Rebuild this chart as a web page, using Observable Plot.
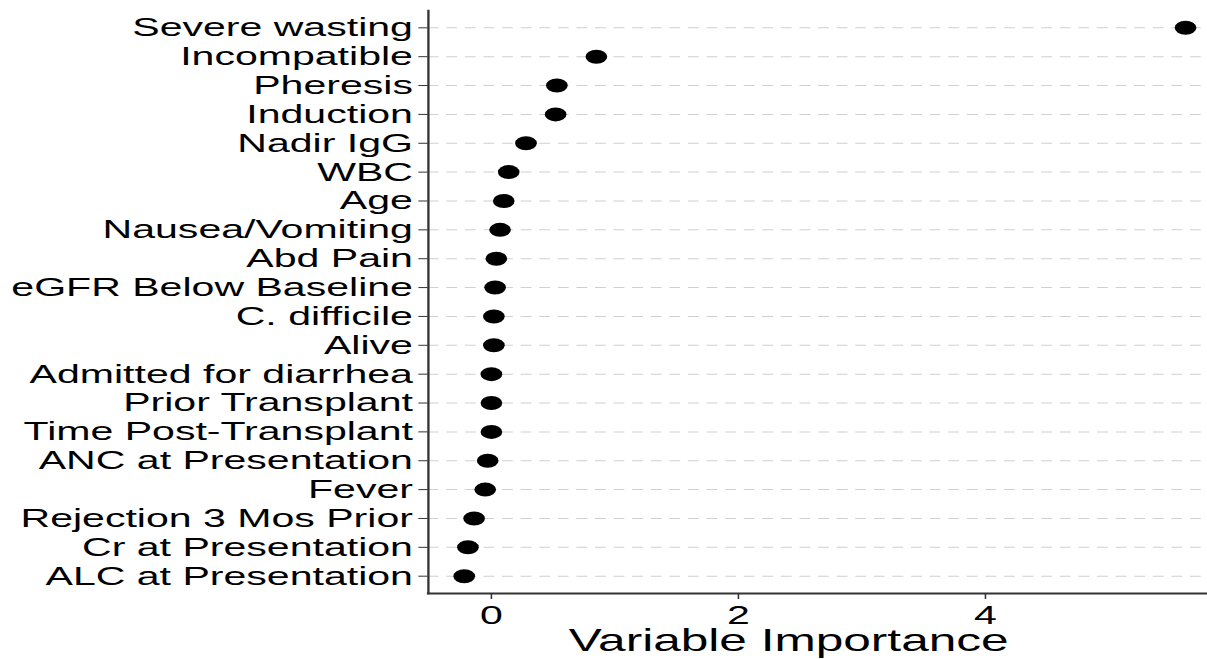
<!DOCTYPE html>
<html>
<head>
<meta charset="utf-8">
<script src="https://cdn.jsdelivr.net/npm/d3@7"></script>
<script src="https://cdn.jsdelivr.net/npm/@observablehq/plot@0.6"></script>
<style>
  html, body { margin: 0; padding: 0; background: white; overflow: hidden; }
</style>
</head>
<body>
<div id="chart"></div>
<script>
const categories = [
  "Severe wasting", "Incompatible", "Pheresis", "Induction", "Nadir IgG",
  "WBC", "Age", "Nausea/Vomiting", "Abd Pain", "eGFR Below Baseline",
  "C. difficile", "Alive", "Admitted for diarrhea", "Prior Transplant",
  "Time Post-Transplant", "ANC at Presentation", "Fever",
  "Rejection 3 Mos Prior", "Cr at Presentation", "ALC at Presentation"
];
const importance = [
  5.62, 0.85, 0.53, 0.52, 0.28,
  0.14, 0.10, 0.07, 0.04, 0.03,
  0.02, 0.02, 0.00, 0.00,
  0.00, -0.03, -0.05,
  -0.14, -0.19, -0.22
];
const xTicks = [0, 2, 4];
const xTitle = "Variable Importance";

const data = categories.map((c, i) => ({name: c, value: importance[i]}));

const W0 = 779, H = 659;

const chart = Plot.plot({
  width: W0,
  height: H,
  marginLeft: 276,
  marginRight: 0,
  marginTop: 10,
  marginBottom: 66,
  style: {fontFamily: "'Liberation Sans', Arial, sans-serif", fontSize: "26.5px", color: "#000", background: "white"},
  x: {domain: [-0.51, 5.80]},
  y: {type: "point", domain: categories, padding: 0.6, round: false},
  marks: [
    Plot.gridY({stroke: "#d0d0d0", strokeOpacity: 1, strokeWidth: 1, strokeDasharray: "7,5"}),
    Plot.frame({anchor: "left", stroke: "#333", strokeWidth: 1.5}),
    Plot.frame({anchor: "bottom", stroke: "#333", strokeWidth: 2}),
    Plot.axisY({tickSize: 6, tickPadding: 4, label: null, stroke: "#333", fill: "#000"}),
    Plot.axisX({ticks: xTicks, tickFormat: "d", tickSize: 6, tickPadding: 6, label: null, stroke: "#333", fill: "#000"}),
    Plot.text([xTitle], {frameAnchor: "bottom", dy: 57, dx: -19, fontSize: 32, fill: "#000"}),
    Plot.dot(data, {x: "value", y: "name", r: 7, fill: "#000", stroke: "none"})
  ]
});

chart.setAttribute("preserveAspectRatio", "none");
chart.setAttribute("width", 1207);
chart.setAttribute("height", H);
chart.style.width = "1207px";
chart.style.height = H + "px";
chart.style.maxWidth = "none";
document.getElementById("chart").appendChild(chart);
</script>
</body>
</html>
